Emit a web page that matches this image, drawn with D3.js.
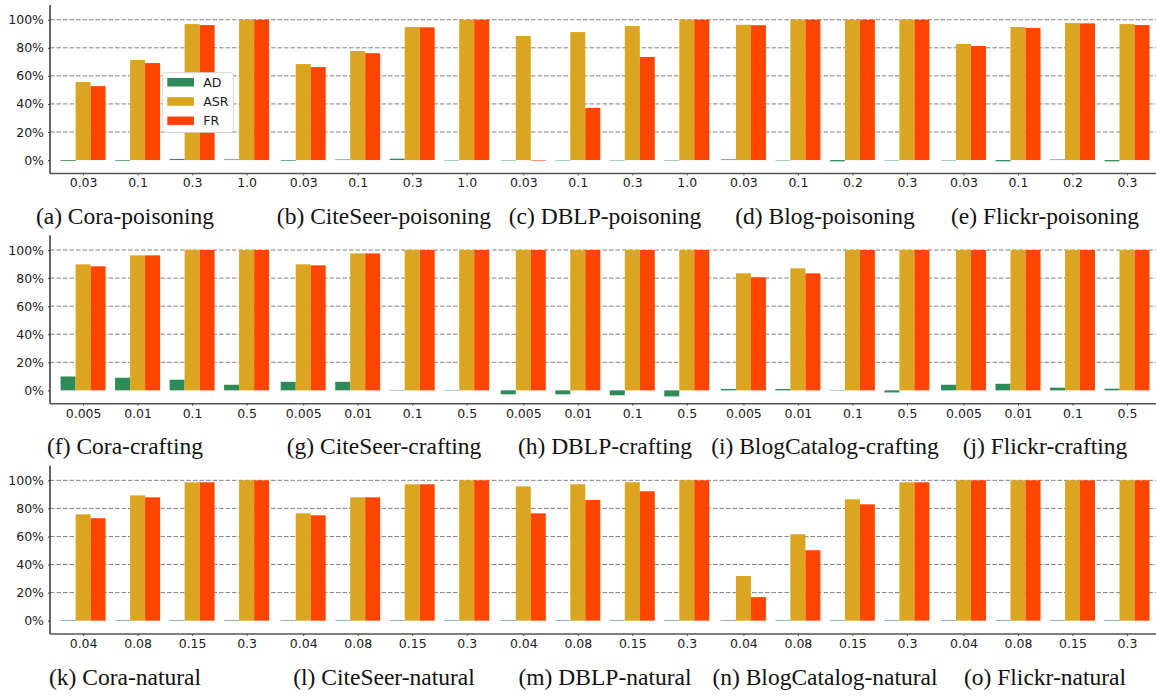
<!DOCTYPE html>
<html>
<head>
<meta charset="utf-8">
<script src="https://cdn.jsdelivr.net/npm/d3@7"></script>
<style>
  html, body { margin: 0; padding: 0; background: #fff; }
  svg { display: block; }
</style>
</head>
<body>
<svg id="chart" width="1156" height="696"></svg>
<script>
// Series names and colours
const seriesNames = ["AD", "ASR", "FR"];
const seriesColors = ["#2e8b57", "#daa520", "#ff4500"];
const yTicks = [0, 20, 40, 60, 80, 100];

// Row 1: poisoning
const poisoningCaptions = ["(a) Cora-poisoning", "(b) CiteSeer-poisoning", "(c) DBLP-poisoning", "(d) Blog-poisoning", "(e) Flickr-poisoning"];
const poisoningTicks = [["0.03", "0.1", "0.3", "1.0"], ["0.03", "0.1", "0.3", "1.0"], ["0.03", "0.1", "0.3", "1.0"], ["0.03", "0.1", "0.2", "0.3"], ["0.03", "0.1", "0.2", "0.3"]];
const poisoningAD = [[-0.6, -0.5, 0.8, 0.5], [-0.5, 0.4, 1.0, -0.3], [-0.3, -0.3, -0.3, -0.3], [0.5, -0.3, -0.9, -0.3], [-0.3, -0.9, 0.4, -0.9]];
const poisoningASR = [[55.6, 71.3, 96.9, 100], [68.4, 77.7, 94.8, 100], [88.4, 91.2, 95.5, 100], [96.4, 100, 100, 100], [82.7, 94.8, 97.6, 96.9]];
const poisoningFR = [[52.7, 69.1, 96.2, 100], [66.3, 76.2, 94.6, 100], [-0.4, 37.2, 73.5, 100], [96.1, 100, 100, 100], [81.3, 94.1, 97.4, 96.2]];

// Row 2: crafting
const craftingCaptions = ["(f) Cora-crafting", "(g) CiteSeer-crafting", "(h) DBLP-crafting", "(i) BlogCatalog-crafting", "(j) Flickr-crafting"];
const craftingTicks = [["0.005", "0.01", "0.1", "0.5"], ["0.005", "0.01", "0.1", "0.5"], ["0.005", "0.01", "0.1", "0.5"], ["0.005", "0.01", "0.1", "0.5"], ["0.005", "0.01", "0.1", "0.5"]];
const craftingAD = [[9.9, 9.0, 7.6, 4.0], [6.1, 6.1, 0.3, 0.3], [-2.8, -2.8, -3.5, -4.3], [1.0, 1.0, 0.3, -1.5], [4.0, 4.7, 1.9, 1.2]];
const craftingASR = [[89.8, 96.2, 100, 100], [89.8, 97.6, 100, 100], [100, 100, 100, 100], [83.4, 87.0, 100, 100], [100, 100, 100, 100]];
const craftingFR = [[88.4, 96.2, 100, 100], [89.1, 97.6, 100, 100], [100, 100, 100, 100], [80.6, 83.4, 100, 100], [100, 100, 100, 100]];

// Row 3: natural
const naturalCaptions = ["(k) Cora-natural", "(l) CiteSeer-natural", "(m) DBLP-natural", "(n) BlogCatalog-natural", "(o) Flickr-natural"];
const naturalTicks = [["0.04", "0.08", "0.15", "0.3"], ["0.04", "0.08", "0.15", "0.3"], ["0.04", "0.08", "0.15", "0.3"], ["0.04", "0.08", "0.15", "0.3"], ["0.04", "0.08", "0.15", "0.3"]];
const naturalAD = [[0.4, 0.4, 0.4, 0.4], [0.4, 0.4, 0.4, 0.4], [0.4, 0.4, 0.4, 0.4], [0.4, 0.4, 0.4, 0.4], [0.4, 0.4, 0.4, 0.4]];
const naturalASR = [[75.8, 89.3, 98.6, 100], [76.5, 87.9, 97.2, 100], [95.7, 97.2, 98.6, 100], [31.8, 61.6, 86.5, 98.6], [100, 100, 100, 100]];
const naturalFR = [[73.0, 87.9, 98.6, 100], [75.1, 87.9, 97.2, 100], [76.5, 86.0, 92.2, 100], [16.8, 50.2, 82.9, 98.6], [100, 100, 100, 100]];

const rows = [
  { captions: poisoningCaptions, ticks: poisoningTicks, series: [poisoningAD, poisoningASR, poisoningFR] },
  { captions: craftingCaptions, ticks: craftingTicks, series: [craftingAD, craftingASR, craftingFR] },
  { captions: naturalCaptions, ticks: naturalTicks, series: [naturalAD, naturalASR, naturalFR] }
];

// Layout
const svg = d3.select("#chart");
const rowTop = [5, 235.3, 465.6];
const rowHeight = 168.4;
const axisLeft = 50, axisRight = 1156;
const tickStep = 54.5;
const barW = 15;
const captionX = [125, 384, 605, 825, 1045];

// first-tick position of each panel in a row
const panelX = d3.scaleLinear().domain([0, 4]).range([83.1, 963.5]);
// offset of each series inside a group (ASR centred on the tick)
const seriesX = d3.scaleBand().domain(seriesNames).range([-1.5 * barW, 1.5 * barW]);

rows.forEach((row, r) => {
  const y = d3.scaleLinear().domain([-9.5, 110.5]).range([rowTop[r] + rowHeight, rowTop[r]]);
  const g = svg.append("g");

  // dashed horizontal grid
  g.append("g").selectAll("line").data(yTicks.filter(v => v > 0)).join("line")
    .attr("x1", axisLeft).attr("x2", axisRight)
    .attr("y1", d => y(d)).attr("y2", d => y(d))
    .attr("stroke", "#808080").attr("stroke-width", 1)
    .attr("stroke-dasharray", "4.5,2");

  // panels
  row.captions.forEach((cap, p) => {
    const x0 = panelX(p);
    const x = d3.scaleLinear().domain([0, 3]).range([x0, x0 + 3 * tickStep]);
    const pg = g.append("g");

    seriesNames.forEach((name, s) => {
      const vals = row.series[s][p];
      pg.append("g").selectAll("rect").data(vals).join("rect")
        .attr("x", (d, i) => x(i) + seriesX(name))
        .attr("width", seriesX.bandwidth())
        .attr("y", d => y(Math.max(0, d)))
        .attr("height", d => Math.abs(y(d) - y(0)))
        .attr("fill", seriesColors[s]);
    });

    // x axis ticks and labels
    const xAxis = d3.axisBottom(x).tickValues([0, 1, 2, 3])
      .tickFormat(i => row.ticks[p][i]).tickSize(2).tickPadding(3);
    const ax = pg.append("g").attr("transform", `translate(0,${y.range()[0]})`).call(xAxis);
    ax.select(".domain").remove();
    ax.selectAll("line").attr("stroke", "#444");
    ax.selectAll("text").attr("font-family", "DejaVu Sans").attr("font-size", 12.5).attr("fill", "#1a1a1a");

    // caption
    g.append("text")
      .attr("x", captionX[p]).attr("y", y.range()[0] + 50.7)
      .attr("text-anchor", "middle")
      .attr("font-family", "Liberation Serif, Times New Roman, serif")
      .attr("font-size", 23.5).attr("fill", "#111")
      .text(cap);
  });

  // bottom axis line
  g.append("line")
    .attr("x1", axisLeft).attr("x2", axisRight)
    .attr("y1", y.range()[0]).attr("y2", y.range()[0])
    .attr("stroke", "#555").attr("stroke-width", 1.5);

  // left axis
  const yAxis = d3.axisLeft(y).tickValues(yTicks).tickFormat(d => d + "%").tickSize(2).tickPadding(4);
  const ay = g.append("g").attr("transform", `translate(${axisLeft},0)`).call(yAxis);
  ay.select(".domain").attr("stroke", "#333").attr("stroke-width", 1.5).attr("d", `M0,${y.range()[1]}V${y.range()[0]}`);
  ay.selectAll("line").attr("stroke", "#444");
  ay.selectAll("text").attr("font-family", "DejaVu Sans").attr("font-size", 12.5).attr("fill", "#1a1a1a");
});

// legend in the first panel
const lg = svg.append("g").attr("transform", "translate(162.7,72.7)");
lg.append("rect").attr("width", 70.6).attr("height", 59.6).attr("rx", 2.5)
  .attr("fill", "#fff").attr("stroke", "#d3d3d3").attr("stroke-width", 1);
seriesNames.forEach((name, s) => {
  const cy = 9.5 + s * 19.3;
  lg.append("rect").attr("x", 4.6).attr("y", cy - 4.3).attr("width", 26.7).attr("height", 8.6)
    .attr("fill", seriesColors[s]);
  lg.append("text").attr("x", 40.6).attr("y", cy).attr("dy", "0.36em")
    .attr("font-family", "DejaVu Sans").attr("font-size", 12.5).attr("fill", "#1a1a1a")
    .text(name);
});
</script>
</body>
</html>
